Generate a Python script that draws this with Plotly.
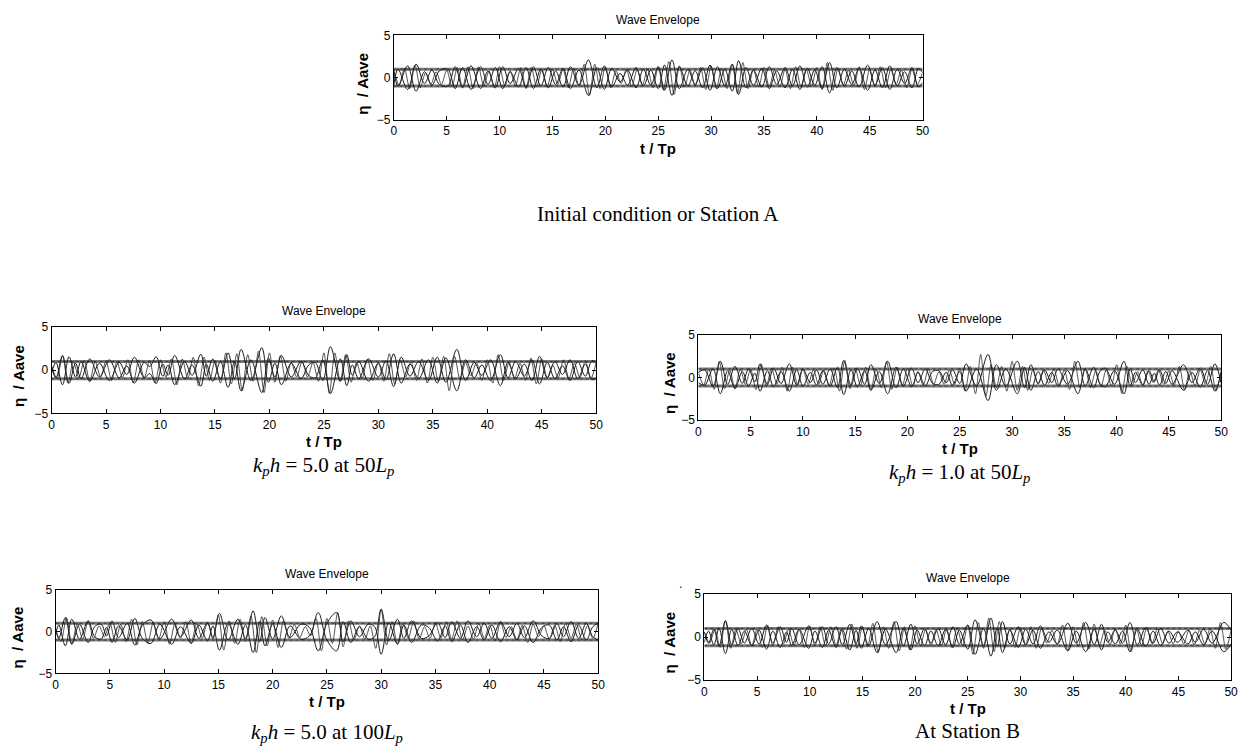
import plotly.graph_objects as go

# ---------------- data ----------------
# envelope-like curves: extrema times (t/Tp) and signed values (eta/Aave); drawn as +A and -A
T_INIT = [0.0, 0.4, 1.3, 2.1, 2.9, 3.6, 4.3, 5.1, 5.8, 6.5, 7.3, 8.2, 8.9, 9.6, 10.3, 11.0, 11.8, 12.5, 13.2, 13.9,
          14.6, 15.3, 16.0, 16.7, 17.5, 18.4, 19.2, 19.9, 20.6, 21.4, 22.1, 22.9, 23.6, 24.3, 25.0, 25.6, 26.3, 27.0,
          27.8, 28.5, 29.2, 29.9, 30.6, 31.3, 32.0, 32.6, 33.3, 34.0, 34.8, 35.5, 36.2, 37.0, 37.7, 38.4, 39.1, 39.8,
          40.5, 41.2, 41.9, 42.6, 43.3, 44.0, 44.8, 45.5, 46.2, 46.9, 47.6, 48.3, 49.0, 49.6, 50.0]
A_INIT = [0.9, -1.0, 1.4, -1.6, 0.7, -0.9, 0.8, 1.0, -1.3, 1.2, -1.4, 1.3, -0.8, 1.2, -1.3, 0.7, -1.1, 1.2, -1.3, 1.0,
          -1.2, 0.8, -1.1, 1.3, -0.9, 2.1, -1.2, 1.4, -1.1, 0.5, -0.9, 1.2, -1.0, 0.9, -1.3, 1.5, -2.1, 1.3, -1.0, 0.8,
          -1.2, 1.5, -1.3, 1.0, -1.6, 2.0, -1.2, 0.9, -1.1, 1.3, -0.8, 1.2, -1.0, 1.4, -1.1, 0.9, -1.3, 1.8, -1.2, 1.0,
          -0.8, 1.1, -1.5, 0.9, -1.2, 1.4, -1.0, 0.7, -1.2, 1.1, 0.6]

T_K5_50 = [0.0, 0.4, 1.0, 1.6, 2.2, 2.7, 3.5, 4.4, 5.3, 6.2, 6.9, 7.6, 8.5, 9.0, 9.6, 10.2, 10.7, 11.3, 12.2, 12.9,
           13.7, 14.2, 14.8, 15.5, 16.2, 16.8, 17.4, 18.3, 19.3, 19.9, 20.5, 21.1, 22.0, 22.9, 23.6, 24.2, 24.9, 25.6,
           26.5, 27.1, 27.6, 28.2, 29.1, 30.0, 30.7, 31.4, 32.1, 32.9, 33.7, 34.6, 35.4, 36.2, 37.2, 38.0, 38.8, 39.5,
           40.3, 41.2, 41.9, 42.6, 43.4, 44.1, 44.8, 45.5, 46.2, 46.9, 47.6, 48.3, 49.0, 49.6, 50.0]
A_K5_50 = [0.4, -0.9, 1.7, -1.55, 0.8, -1.0, 1.3, -0.8, 1.2, -0.9, 0.5, -1.5, 0.9, 0.4, 1.55, -0.7, 0.6, -1.7, 1.0,
           -0.6, 1.85, -0.7, 1.3, -1.0, 2.0, -1.0, 2.4, -1.2, 2.6, -1.4, 0.8, -1.7, 0.8, -1.0, 0.6, 0.9, -1.2, 2.7,
           -1.3, 1.8, -0.6, 1.0, -1.3, 0.8, -1.1, 1.9, -1.5, 0.7, -1.0, 1.2, -1.5, 1.4, -2.4, 1.2, -0.9, 0.6, -1.2,
           1.8, -0.9, 1.0, -0.7, 1.2, -1.6, 0.9, -1.0, 0.5, -1.2, 1.0, -0.7, 1.1, 0.9]

T_K1_50 = [0.0, 0.6, 1.4, 2.1, 2.8, 3.5, 4.2, 4.8, 5.4, 5.9, 6.6, 7.2, 7.9, 8.7, 9.4, 10.0, 10.7, 11.3, 11.9, 12.6,
           13.3, 13.9, 14.6, 15.2, 15.9, 16.5, 17.3, 18.1, 18.9, 19.6, 20.4, 21.0, 21.7, 22.4, 23.0, 23.7, 24.3, 25.0,
           25.6, 26.6, 27.7, 28.5, 29.4, 30.5, 31.2, 31.8, 32.5, 33.1, 33.8, 34.4, 35.3, 36.3, 37.0, 37.8, 38.4, 38.9,
           39.8, 40.7, 41.3, 41.8, 42.5, 43.1, 43.6, 44.1, 44.7, 45.3, 46.4, 47.2, 48.0, 48.7, 49.4, 50.0]
A_K1_50 = [0.6, 0.9, -1.0, 1.9, -0.8, 1.3, -0.7, 1.0, -0.5, 1.6, -0.8, 1.1, -0.7, 1.6, -0.9, 1.0, -0.6, 0.9, -0.8,
           1.0, -1.2, 2.0, -0.9, 1.1, -0.8, 1.5, -0.7, 1.9, -1.2, 1.0, -1.1, 0.6, -1.0, 0.7, 0.8, -0.6, 0.9, -0.7,
           1.6, -1.0, 2.7, -1.5, 1.0, -1.9, 1.2, -1.5, 0.7, -0.9, 0.6, -1.0, 0.8, -1.9, 1.0, -1.2, 0.7, 1.1, -0.8,
           1.9, -1.0, 0.6, -0.9, 0.8, -0.5, 0.9, -0.7, 0.8, -1.5, 0.6, -1.1, 0.8, -1.6, 0.7]

T_K5_100 = [0.0, 0.3, 0.9, 1.5, 2.2, 3.0, 3.6, 4.2, 4.7, 5.2, 5.8, 6.6, 7.3, 8.0, 8.8, 9.6, 10.7, 11.5, 12.5, 13.2,
            14.0, 14.5, 15.1, 15.9, 16.8, 17.5, 18.2, 18.8, 19.3, 20.0, 20.8, 21.6, 22.6, 23.4, 24.2, 25.0, 25.9,
            26.5, 27.2, 28.0, 28.8, 29.4, 30.0, 30.7, 31.5, 32.1, 32.8, 33.7, 34.4, 35.2, 35.9, 36.5, 37.3, 38.0,
            38.8, 39.5, 40.2, 41.0, 41.8, 42.5, 43.2, 44.0, 44.8, 45.5, 46.2, 46.8, 47.5, 48.2, 48.9, 49.5, 50.0]
A_K5_100 = [0.3, -0.8, 1.7, -1.5, 0.9, -1.3, 0.6, 0.9, -0.5, 1.3, -0.7, 1.0, -1.6, 0.8, 1.4, -0.9, 1.5, -0.6, 1.4,
            -0.8, 1.1, -0.7, 2.2, -1.0, 1.5, -0.8, 2.5, -1.2, 1.7, -0.9, 1.9, -0.7, 0.9, 0.5, -2.3, 1.0, 2.3, -1.2,
            1.3, -0.6, 0.9, 0.6, -2.7, 1.1, -1.5, 0.8, -1.3, 0.8, 0.5, -1.1, 0.7, -1.2, 0.8, -1.3, 0.6, -1.0, 0.8,
            -1.2, 0.6, -1.0, 0.7, -1.3, 0.5, 0.8, -1.0, 0.6, -1.2, 0.8, -1.0, 0.6, 1.0]

T_STB = [0.0, 0.4, 0.9, 1.4, 2.0, 2.6, 3.2, 3.8, 4.5, 5.2, 5.9, 6.5, 7.2, 7.8, 8.3, 9.0, 9.9, 10.5, 11.2, 11.8,
         12.5, 13.1, 13.8, 14.4, 14.9, 15.6, 16.4, 17.2, 18.2, 18.9, 19.6, 20.2, 20.9, 21.5, 22.2, 22.9, 23.6, 24.2,
         25.0, 25.7, 26.5, 27.2, 27.8, 28.3, 29.0, 29.8, 30.5, 31.2, 31.9, 32.7, 33.5, 34.5, 35.3, 36.2, 37.0, 37.7,
         38.3, 39.0, 39.7, 40.4, 41.1, 41.9, 42.6, 43.3, 44.1, 44.9, 45.9, 46.6, 47.4, 48.2, 49.3, 50.0]
A_STB = [0.6, -0.7, 0.9, -1.0, 1.9, -0.9, 1.0, -0.7, 1.0, -0.8, 1.4, -0.7, 1.2, -0.6, 1.0, -0.9, 1.3, -0.7, 1.2, -0.8,
         1.2, -0.9, 1.5, -0.8, 1.3, -1.0, 1.8, -0.9, 1.8, -1.0, 1.5, -0.8, 1.0, -0.7, 1.0, -0.9, 1.2, -0.8, 1.4, -2.0,
         1.0, -2.2, 1.1, -1.8, 0.8, -1.2, 0.9, -0.8, 1.3, -0.6, 0.8, -1.6, 0.7, -1.7, 0.9, -1.5, 0.6, -0.8, 0.7, -1.7,
         0.9, -1.1, 0.7, -1.0, 0.7, -0.6, 0.8, -0.6, 0.9, -0.7, 1.7, 0.8]

# surface elevation eta/Aave, sampled every half peak period (t = 0, 0.5, ..., 50)
T_ETA = [0.5 * i for i in range(101)]
ETA_INIT = [0.9, -0.9, 1.1, -1.3, 1.5, -1.2, 0.6, -0.8, 0.7, -0.8,
            0.9, -1.1, 1.2, -1.2, 1.3, -1.3, 1.3, -1.0, 0.8, -1.2,
            1.3, -1.0, 0.8, -1.0, 1.2, -1.3, 1.2, -1.1, 1.0, -1.1,
            1.0, -0.8, 1.0, -1.2, 1.1, -1.0, 1.6, -2.1, 1.6, -1.3,
            1.3, -1.2, 0.8, -0.7, 1.0, -1.1, 1.0, -0.9, 1.0, -1.2,
            1.3, -1.5, 1.9, -2.0, 1.4, -1.1, 0.9, -1.0, 1.2, -1.4,
            1.4, -1.3, 1.1, -1.3, 1.6, -1.9, 1.8, -1.3, 1.0, -1.1,
            1.2, -1.1, 0.9, -1.1, 1.0, -1.3, 1.3, -1.1, 1.0, -1.0,
            1.2, -1.4, 1.8, -1.5, 1.1, -0.9, 0.9, -1.0, 1.3, -1.4,
            1.0, -1.1, 1.3, -1.2, 1.0, -0.8, 0.9, -1.2, 1.0, -0.8,
            0.6]
ETA_K5_50 = [0.5, -1.0, 1.7, -1.5, 1.0, -0.9, 1.1, -1.3, 1.0, -0.8,
             1.1, -1.2, 1.0, -0.9, 1.2, -1.5, 1.2, -0.9, 1.1, -1.5,
             1.2, -0.8, 1.3, -1.7, 1.3, -1.0, 1.5, -1.85, 1.5, -1.2,
             1.1, -1.5, 2.0, -1.6, 1.9, -2.4, 1.8, -1.3, 2.2, -2.6,
             2.0, -1.4, 1.7, -1.3, 0.9, -0.8, 1.0, -0.8, 0.9, -1.3,
             2.0, -2.7, 2.0, -1.3, 1.8, -1.4, 0.9, -1.0, 1.3, -1.2,
             0.9, -1.3, 1.9, -1.6, 1.2, -0.8, 1.0, -1.2, 1.3, -1.5,
             1.5, -1.3, 1.6, -2.4, 1.6, -1.1, 0.9, -0.7, 0.9, -1.2,
             1.2, -1.5, 1.8, -1.2, 0.9, -1.0, 0.8, -1.2, 1.4, -1.6,
             1.3, -0.9, 0.6, -0.9, 1.2, -1.0, 0.8, -0.9, 1.1, -1.0,
             0.9]
ETA_K1_50 = [0.6, -0.9, 1.0, -1.4, 1.9, -1.3, 0.9, -1.3, 1.0, -0.8,
             1.0, -1.4, 1.6, -1.0, 1.1, -0.8, 1.2, -1.6, 1.2, -0.9,
             1.0, -0.8, 0.9, -0.8, 0.9, -1.0, 1.1, -1.6, 2.0, -1.3,
             1.1, -0.9, 1.2, -1.5, 1.0, -1.2, 1.9, -1.4, 1.2, -1.0,
             1.1, -1.0, 0.7, -0.9, 1.0, -0.8, 0.7, -0.8, 0.9, -0.8,
             1.1, -1.6, 1.3, -1.9, 2.7, -2.2, 1.5, -1.2, 1.3, -1.6,
             1.9, -1.5, 1.3, -1.5, 1.0, -0.8, 0.9, -0.7, 1.0, -0.9,
             0.9, -1.4, 1.9, -1.2, 1.1, -1.2, 0.8, -1.1, 0.9, -1.0,
             1.5, -1.9, 1.3, -0.9, 0.7, -0.9, 0.8, -0.6, 0.9, -0.8,
             0.8, -0.9, 1.3, -1.5, 0.8, -1.0, 0.9, -0.8, 1.3, -1.6,
             0.7]
ETA_K5_100 = [0.3, -1.2, 1.7, -1.5, 1.0, -0.9, 1.3, -0.8, 0.7, -0.6,
              1.1, -1.3, 0.9, -1.2, 1.5, -1.6, 1.2, -1.4, 1.1, -0.9,
              1.2, -1.5, 1.0, -0.8, 1.2, -1.4, 1.0, -0.8, 1.1, -0.9,
              2.0, -2.2, 1.3, -1.4, 1.5, -1.2, 1.9, -2.5, 1.8, -1.7,
              1.4, -1.9, 1.3, -0.8, 0.9, -0.7, 0.6, -0.5, 1.6, -2.3,
              1.6, -1.4, 2.3, -1.8, 1.3, -1.0, 0.7, -0.9, 0.7, -2.0,
              2.7, -1.6, 1.2, -1.5, 1.0, -0.8, 1.3, -0.9, 0.6, -0.8,
              1.1, -0.8, 1.2, -0.9, 1.3, -1.0, 0.7, -0.9, 1.0, -0.8,
              0.8, -1.1, 1.2, -0.7, 0.6, -1.0, 0.8, -1.3, 0.9, -0.6,
              0.7, -0.9, 0.8, -1.2, 1.0, -0.8, 0.9, -1.0, 0.7, -0.8,
              1.0]
ETA_STB = [0.6, -0.7, 0.9, -1.2, 1.9, -1.3, 0.9, -0.8, 0.9, -1.0,
           0.9, -1.2, 1.4, -1.0, 1.2, -0.8, 0.9, -1.0, 0.9, -1.2,
           1.3, -1.0, 1.2, -1.0, 1.2, -1.0, 1.0, -1.4, 1.5, -1.3,
           1.2, -1.1, 1.6, -1.8, 1.2, -1.3, 1.8, -1.6, 1.2, -1.5,
           1.3, -1.0, 0.9, -1.0, 0.9, -1.0, 1.0, -1.2, 1.1, -1.0,
           1.4, -2.0, 1.7, -1.3, 2.2, -1.7, 1.8, -1.3, 1.0, -1.2,
           1.1, -0.9, 1.2, -1.3, 1.0, -0.7, 0.8, -0.9, 1.4, -1.6,
           1.2, -1.1, 1.7, -1.4, 1.5, -1.0, 0.8, -0.9, 1.0, -0.8,
           1.4, -1.7, 1.1, -1.0, 1.1, -0.8, 1.0, -0.8, 0.7, -0.8,
           0.7, -0.8, 0.8, -0.9, 0.8, -0.8, 1.0, -1.3, 1.7, -1.4,
           0.8]

MEAN_LEVELS = [1.0, -1.0]
X_TICKS = [0, 5, 10, 15, 20, 25, 30, 35, 40, 45, 50]
Y_TICKS = [-5, 0, 5]
TITLE = "Wave Envelope"
XLABEL = "t / Tp"
YLABEL = "η  / Aave"
CAPTIONS = [
    "Initial condition or Station A",
    "<i>k<sub>p</sub>h</i> = 5.0 at 50<i>L<sub>p</sub></i>",
    "<i>k<sub>p</sub>h</i> = 1.0 at 50<i>L<sub>p</sub></i>",
    "<i>k<sub>p</sub>h</i> = 5.0 at 100<i>L<sub>p</sub></i>",
    "At Station B",
]

# ---------------- layout (pixels) ----------------
W, H = 1250, 755
PANELS = [
    dict(t=T_INIT, a=A_INIT, eta=ETA_INIT, x0=394, x1=927, y0=29, y1=115, cap_y=211, ylab_x=362),
    dict(t=T_K5_50, a=A_K5_50, eta=ETA_K5_50, x0=49, x1=598, y0=326, y1=414, cap_y=468, ylab_x=15),
    dict(t=T_K1_50, a=A_K1_50, eta=ETA_K1_50, x0=701, x1=1228, y0=334, y1=421, cap_y=475, ylab_x=672),
    dict(t=T_K5_100, a=A_K5_100, eta=ETA_K5_100, x0=53, x1=600, y0=594, y1=679, cap_y=740, ylab_x=15),
    dict(t=T_STB, a=A_STB, eta=ETA_STB, x0=707, x1=1238, y0=598, y1=686, cap_y=738, ylab_x=672),
]


def px(x):
    return x / W


def py(y):
    return 1 - y / H


fig = go.Figure()
annotations = []
for i, p in enumerate(PANELS):
    k = "" if i == 0 else str(i + 1)
    xa, ya = "x" + k, "y" + k
    n = min(len(p["t"]), len(p["a"]))
    tt = p["t"][:n]
    aa = p["a"][:n]
    m = min(len(T_ETA), len(p["eta"]))
    for lvl in MEAN_LEVELS:
        fig.add_trace(go.Scatter(x=[X_TICKS[0], X_TICKS[-1]], y=[lvl, lvl], mode="lines",
                                 line=dict(color="#7a7a7a", width=3), xaxis=xa, yaxis=ya,
                                 showlegend=False, hoverinfo="skip"))
        fig.add_trace(go.Scatter(x=[X_TICKS[0], X_TICKS[-1]], y=[lvl, lvl], mode="lines",
                                 line=dict(color="#3a3a3a", width=1, dash="dot"), xaxis=xa, yaxis=ya,
                                 showlegend=False, hoverinfo="skip"))
    for sgn in (1, -1):
        fig.add_trace(go.Scatter(x=tt, y=[sgn * v for v in aa], mode="lines",
                                 line=dict(color="#1a1a1a", width=1, shape="spline", smoothing=1.0),
                                 xaxis=xa, yaxis=ya, showlegend=False, hoverinfo="skip"))
    fig.add_trace(go.Scatter(x=T_ETA[:m], y=p["eta"][:m], mode="lines",
                             line=dict(color="#2a2a2a", width=0.8, shape="spline", smoothing=0.8),
                             xaxis=xa, yaxis=ya, showlegend=False, hoverinfo="skip"))

    axis_common = dict(showline=True, linecolor="black", linewidth=1, mirror="ticks",
                       ticks="inside", ticklen=4, tickcolor="black", showgrid=False, zeroline=False,
                       tickfont=dict(family="Arial, Liberation Sans", size=12, color="black"))
    fig.update_layout(**{
        ("xaxis" + k): dict(domain=[px(p["x0"]), px(p["x1"])], range=[0, 50], tickvals=X_TICKS,
                            anchor=ya, **axis_common),
        ("yaxis" + k): dict(domain=[py(p["y1"]), py(p["y0"])], range=[-5, 5], tickvals=Y_TICKS,
                            anchor=xa, **axis_common),
    })
    cx = (p["x0"] + p["x1"]) / 2
    cy = (p["y0"] + p["y1"]) / 2
    annotations.append(dict(text=TITLE, x=px(cx), y=py(p["y0"] - 16), xref="paper", yref="paper",
                            showarrow=False, xanchor="center", yanchor="middle",
                            font=dict(family="Arial, Liberation Sans", size=12, color="black")))
    annotations.append(dict(text="<b>" + XLABEL + "</b>", x=px(cx), y=py(p["y1"] + 29), xref="paper",
                            yref="paper", showarrow=False, xanchor="center", yanchor="middle",
                            font=dict(family="Arial, Liberation Sans", size=15, color="black")))
    annotations.append(dict(text="<b>" + YLABEL + "</b>", x=px(p["ylab_x"]), y=py(cy + 6), xref="paper",
                            yref="paper", showarrow=False, xanchor="center", yanchor="middle", textangle=-90,
                            font=dict(family="Arial, Liberation Sans", size=15, color="black")))
    annotations.append(dict(text=CAPTIONS[i], x=px(cx), y=py(p["cap_y"]), xref="paper", yref="paper",
                            showarrow=False, xanchor="center", yanchor="middle",
                            font=dict(family="Liberation Serif, Times New Roman", size=21, color="black")))

# small stray dot at the upper left of the last panel
annotations.append(dict(text=".", x=px(683), y=py(588), xref="paper", yref="paper", showarrow=False,
                        xanchor="center", yanchor="middle",
                        font=dict(family="Arial, Liberation Sans", size=12, color="black")))

fig.update_layout(width=W, height=H, margin=dict(l=0, r=0, t=0, b=0), paper_bgcolor="white",
                  plot_bgcolor="white", annotations=annotations)
fig.write_html("out.html")
